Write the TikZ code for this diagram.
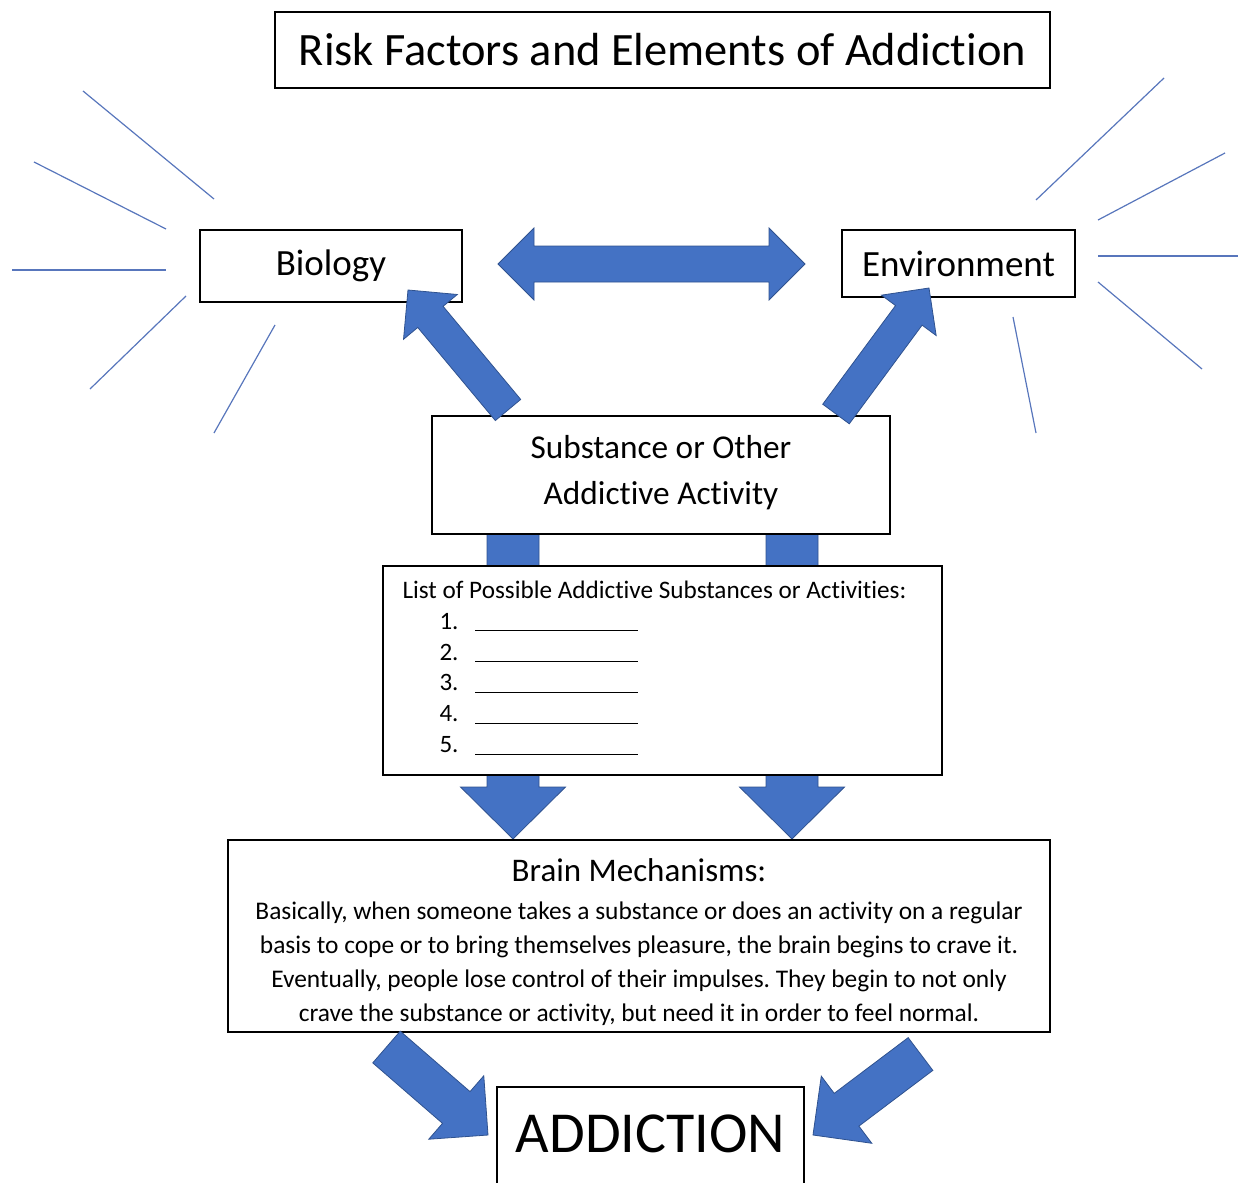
\documentclass[tikz,border=0pt]{standalone}
\usepackage{fontspec}
\setmainfont{Carlito}[Ligatures=NoCommon]
\usetikzlibrary{calc}
\frenchspacing

\definecolor{arrowblue}{RGB}{68,114,196}
\definecolor{arrowedge}{RGB}{47,82,143}
\definecolor{raycol}{RGB}{88,118,188}

\tikzset{
  box/.style={draw=black, line width=1.1pt, fill=white, inner sep=0pt},
  bigarrow/.style={fill=arrowblue, draw=arrowedge, line width=0.8pt, line join=miter},
  ray/.style={draw=raycol, line width=1.2pt},
}

% block arrow: tail, tip, half shaft, half head, head length
\newcommand{\blockarrow}[5]{%
  \coordinate (ba-h) at ($(#2)!#5!(#1)$);
  \filldraw[bigarrow] ($(#1)!#3!90:(#2)$) -- ($(ba-h)!#3!90:(#2)$)
    -- ($(ba-h)!#4!90:(#2)$) -- (#2)
    -- ($(ba-h)!#4!-90:(#2)$) -- ($(ba-h)!#3!-90:(#2)$)
    -- ($(#1)!#3!-90:(#2)$) -- cycle;
}
% block arrow with two heads
\newcommand{\twoheadarrow}[5]{%
  \coordinate (ba-a) at ($(#1)!#5!(#2)$);
  \coordinate (ba-b) at ($(#2)!#5!(#1)$);
  \filldraw[bigarrow] (#1) -- ($(ba-a)!#4!90:(#2)$) -- ($(ba-a)!#3!90:(#2)$)
    -- ($(ba-b)!#3!90:(#2)$) -- ($(ba-b)!#4!90:(#2)$) -- (#2)
    -- ($(ba-b)!#4!-90:(#2)$) -- ($(ba-b)!#3!-90:(#2)$)
    -- ($(ba-a)!#3!-90:(#2)$) -- ($(ba-a)!#4!-90:(#2)$) -- cycle;
}

\begin{document}
\begin{tikzpicture}[x=1pt, y=-1pt]
  \useasboundingbox (0,0) rectangle (1238,1182);

  % end points of the block arrows
  \coordinate (subOutL) at (513,534);
  \coordinate (subOutR) at (792,534);
  \coordinate (brainInL) at (513,839);
  \coordinate (brainInR) at (792,839);

  % arrows through the list (behind the boxes)
  \blockarrow{subOutL}{brainInL}{26pt}{52.5pt}{52pt}
  \blockarrow{subOutR}{brainInR}{26pt}{52.5pt}{52pt}

  % boxes
  \node[box, minimum width=775pt, minimum height=76pt, font=\fontsize{46.4}{55}\selectfont]
    (title) at (662.5,50) {Risk Factors and Elements of Addiction};
  \node[box, minimum width=262pt, minimum height=72pt, font=\fontsize{37}{44}\selectfont]
    (bio) at (331,266) {Biology};
  \node[box, minimum width=233pt, minimum height=67pt, font=\fontsize{37}{44}\selectfont]
    (env) at (958.5,263.5) {Environment};
  \node[box, minimum width=458pt, minimum height=118pt] (subst) at (661,475) {};
  \node[align=center, font=\fontsize{33.3}{46}\selectfont]
    (substText) at (661,473) {Substance or Other\\Addictive Activity};
  \node[box, minimum width=559pt, minimum height=209pt] (list) at (662.5,670.5) {};
  \node[box, minimum width=822pt, minimum height=192pt] (brain) at (639,936) {};
  \node[box, minimum width=307pt, minimum height=110pt] (addict) at (650.5,1142) {};
  \node[font=\fontsize{58}{66}\selectfont] (addictText) at (650.5,1134) {ADDICTION};

  % list text
  \node[anchor=west, font=\fontsize{25.2}{30}\selectfont] (listHead) at (399,590)
    {List of Possible Addictive Substances or Activities:};
  \foreach \i in {1,...,5}{
    \node[anchor=base west, font=\fontsize{25}{30}\selectfont] (item\i) at (436,{598.5+30.8*\i}) {\i.};
    \draw[line width=1pt] ($(item\i.base west)+(39,1.5)$) -- ($(item\i.base west)+(202,1.5)$);
  }

  % brain text
  \node[font=\fontsize{33}{40}\selectfont] (brainHead) at (639,870) {Brain Mechanisms:};
  \node[align=center, font=\fontsize{25.4}{34}\selectfont] (brainText) at (639,964)
    {Basically, when someone takes a substance or does an activity on a regular\\
     basis to cope or to bring themselves pleasure, the brain begins to crave it.\\
     Eventually, people lose control of their impulses. They begin to not only\\
     crave the substance or activity, but need it in order to feel normal.};

  % arrows between the boxes
  \coordinate (bioIn) at (408,290);
  \coordinate (subToBio) at (508,410);
  \coordinate (envIn) at (929,288);
  \coordinate (subToEnv) at (836,414);
  \coordinate (bioOut) at (498,264);
  \coordinate (envOut) at (805,264);
  \coordinate (brainOutL) at (386.5,1047);
  \coordinate (addictInL) at (488,1135);
  \coordinate (brainOutR) at (920.5,1054);
  \coordinate (addictInR) at (813,1135);

  \twoheadarrow{bioOut}{envOut}{18pt}{36pt}{36pt}
  \blockarrow{subToBio}{bioIn}{16.5pt}{35pt}{35pt}
  \blockarrow{subToEnv}{envIn}{16.5pt}{34pt}{34pt}
  \blockarrow{brainOutL}{addictInL}{21pt}{42pt}{42pt}
  \blockarrow{brainOutR}{addictInR}{20.5pt}{42pt}{42pt}

  % rays round biology
  \draw[ray] (83,91) -- (214,199);
  \draw[ray] (34,162) -- (166,229);
  \draw[ray] (12,270) -- (166,270);
  \draw[ray] (186,296) -- (90,389);
  \draw[ray] (275,325) -- (214,433);

  % rays round environment
  \draw[ray] (1164,78) -- (1036,200);
  \draw[ray] (1225,153) -- (1098,220);
  \draw[ray] (1098,256) -- (1238,256);
  \draw[ray] (1098,282) -- (1202,369);
  \draw[ray] (1013,317) -- (1036,433);

\end{tikzpicture}
\end{document}
